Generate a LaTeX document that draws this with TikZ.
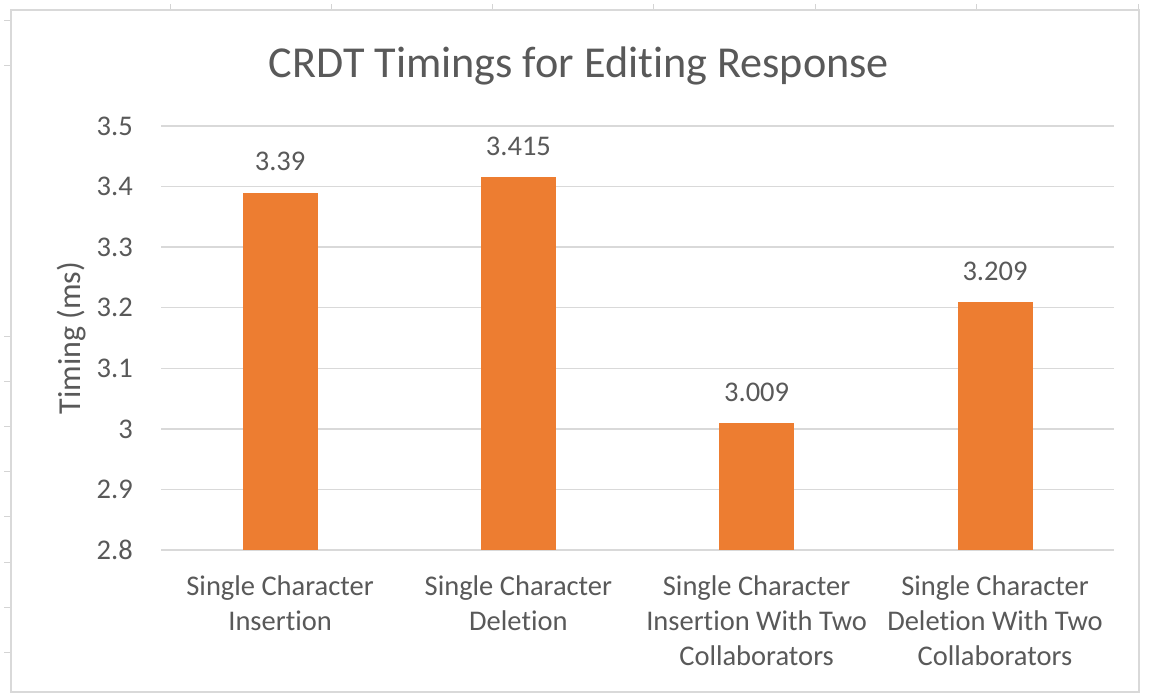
\documentclass[tikz,border=0pt]{standalone}
\usepackage{fontspec}
\setmainfont{Carlito}[Ligatures={NoCommon,NoContextual}]
\definecolor{txt}{HTML}{595959}
\definecolor{barc}{HTML}{ED7D31}
\definecolor{gridc}{HTML}{D9D9D9}
\definecolor{sheetc}{HTML}{D4D4D4}
\begin{document}
\begin{tikzpicture}[x=1pt,y=-1pt,
  lbl/.style={text=txt,inner sep=0pt,font=\fontsize{28.5}{35}\selectfont},
  titlelbl/.style={text=txt,inner sep=0pt,font=\fontsize{44.2}{50}\selectfont},
  axtitle/.style={text=txt,inner sep=0pt,font=\fontsize{32}{36}\selectfont},
  gridline/.style={draw=gridc,line width=1.5pt},
  barbox/.style={fill=barc,draw=none},
  sheettick/.style={draw=sheetc,line width=1pt},
  frame/.style={draw=gridc,line width=2pt}]
\useasboundingbox (0,0) rectangle (1150,694);
\fill[white] (0,0) rectangle (1150,694);
% spreadsheet cell ticks outside the chart
\foreach \xx in {170,331,492,653,815,976,1138} \draw[sheettick] (\xx,4) -- (\xx,10);
\foreach \yy in {20,65,336,381,426,471,516,562,607,652} \draw[sheettick] (4,\yy) -- (11,\yy);
% chart frame
\draw[frame] (11,10) rectangle (1139,692);
% title
\node[titlelbl,anchor=base] (title) at (579,77) {CRDT Timings for Editing Response};
% gridlines and tick labels
\foreach \v/\yy/\nm in {3.5/126/t35,3.4/186.6/t34,3.3/247.1/t33,3.2/307.7/t32,3.1/368.3/t31,3/428.9/t30,2.9/489.4/t29,2.8/550/t28}{
  \draw[gridline] (161,\yy) -- (1114,\yy);
  \node[lbl,anchor=east] (\nm) at (133,\yy) {\v};
}
% axis title
\node[axtitle,rotate=90] (ytitle) at (72,338) {Timing (ms)};
% bars
\fill[barbox] (242.6,550) rectangle (317.6,192.64);
\fill[barbox] (480.9,550) rectangle (555.9,177.49);
\fill[barbox] (719.1,550) rectangle (794.1,423.41);
\fill[barbox] (957.5,550) rectangle (1032.5,302.27);
% value labels
\node[lbl,anchor=base] (v1) at (280.1,170.6) {3.39};
\node[lbl,anchor=base] (v2) at (518.4,155.5) {3.415};
\node[lbl,anchor=base] (v3) at (756.6,401.4) {3.009};
\node[lbl,anchor=base] (v4) at (995,280.3) {3.209};
% category labels
\node[lbl,anchor=base] (c1) at (280.1,595) {\begin{tabular}[t]{@{}c@{}}Single Character\\Insertion\end{tabular}};
\node[lbl,anchor=base] (c2) at (518.4,595) {\begin{tabular}[t]{@{}c@{}}Single Character\\Deletion\end{tabular}};
\node[lbl,anchor=base] (c3) at (756.6,595) {\begin{tabular}[t]{@{}c@{}}Single Character\\Insertion With Two\\Collaborators\end{tabular}};
\node[lbl,anchor=base] (c4) at (995,595) {\begin{tabular}[t]{@{}c@{}}Single Character\\Deletion With Two\\Collaborators\end{tabular}};
\end{tikzpicture}
\end{document}
